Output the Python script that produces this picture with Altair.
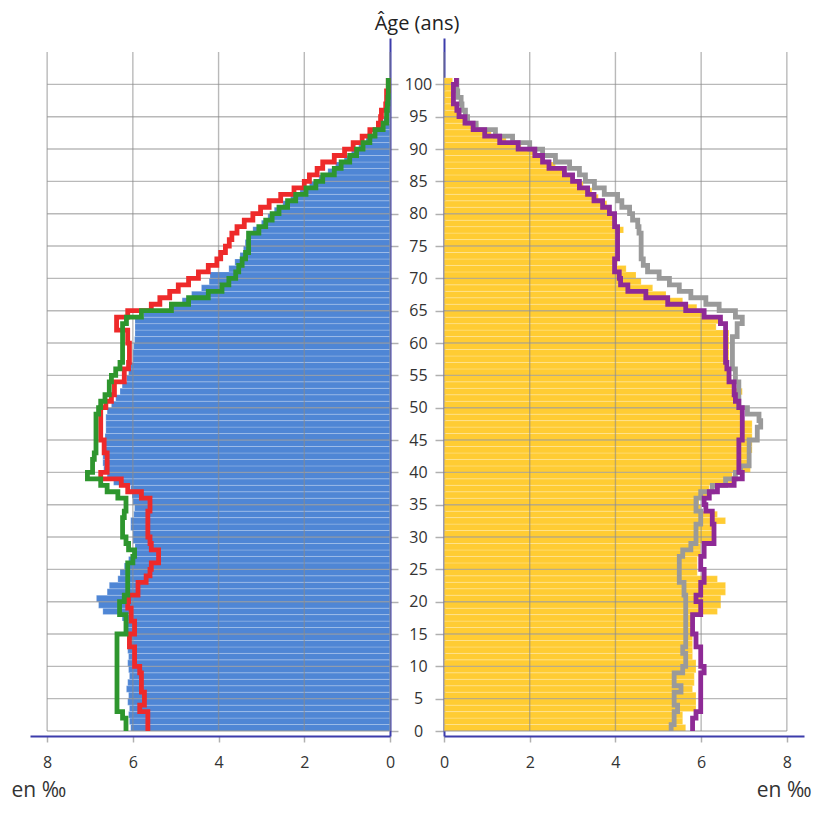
import altair as alt
import pandas as pd

AGES = list(range(0, 101))

MEN_BARS = [6.05, 6.08, 6.1, 6.08, 6.12, 6.1, 6.15, 6.12, 6.08, 6.1,
            6.12, 6.1, 6.12, 6.1, 6.12, 6.15, 6.2, 6.25, 6.7, 6.8,
            6.85, 6.6, 6.55, 6.35, 6.3, 6.2, 6.1, 5.95, 5.95, 6.0,
            6.0, 6.05, 6.05, 5.98, 5.96, 6.0, 6.02, 6.05, 6.45, 6.6,
            6.68, 6.7, 6.7, 6.68, 6.65, 6.65, 6.63, 6.63, 6.63, 6.6,
            6.5, 6.4, 6.3, 6.25, 6.15, 6.1, 6.05, 6.0, 6.0, 5.98,
            5.96, 5.95, 5.95, 5.95, 5.75, 5.1, 4.85, 4.63, 4.4, 4.22,
            4.2, 3.76, 3.62, 3.5, 3.42, 3.38, 3.3, 3.2, 3.0, 2.85,
            2.7, 2.5, 2.32, 2.1, 1.88, 1.66, 1.45, 1.27, 1.07, 0.9,
            0.73, 0.56, 0.4, 0.26, 0.15, 0.1, 0.07, 0.05, 0.03, 0.02,
            0.02]

MEN_RED = [5.65, 5.65, 5.65, 5.84, 5.73, 5.73, 5.8, 5.8, 5.8, 5.84,
           5.96, 5.96, 5.96, 6.08, 6.08, 5.96, 5.96, 6.04, 6.04, 6.12,
           6.1, 5.88, 5.88, 5.69, 5.6, 5.57, 5.4, 5.4, 5.57, 5.6,
           5.65, 5.65, 5.65, 5.65, 5.6, 5.6, 5.8, 6.12, 6.27, 6.75,
           6.6, 6.6, 6.6, 6.67, 6.67, 6.75, 6.75, 6.75, 6.75, 6.75,
           6.63, 6.5, 6.43, 6.43, 6.2, 6.2, 6.1, 6.08, 6.08, 6.08,
           6.12, 6.12, 6.38, 6.38, 6.12, 5.57, 5.37, 5.14, 4.94, 4.7,
           4.47, 4.24, 4.04, 3.95, 3.84, 3.75, 3.69, 3.57, 3.4, 3.2,
           3.02, 2.82, 2.55, 2.24, 2.0, 1.88, 1.7, 1.57, 1.3, 1.06,
           0.86, 0.65, 0.47, 0.27, 0.22, 0.2, 0.1, 0.08, 0.08, 0.04,
           0.04]

MEN_GREEN = [6.16, 6.16, 6.24, 6.37, 6.37, 6.37, 6.37, 6.37, 6.37, 6.37,
             6.37, 6.37, 6.37, 6.37, 6.37, 6.16, 6.16, 6.16, 6.31, 6.31,
             6.2, 6.12, 6.12, 6.12, 6.12, 6.12, 6.0, 5.96, 6.1, 6.16,
             6.24, 6.24, 6.24, 6.2, 6.16, 6.16, 6.35, 6.6, 6.75, 7.06,
             6.94, 6.94, 6.9, 6.86, 6.86, 6.86, 6.86, 6.86, 6.86, 6.8,
             6.75, 6.65, 6.55, 6.55, 6.5, 6.4, 6.3, 6.24, 6.24, 6.24,
             6.24, 6.24, 6.24, 6.15, 5.8, 5.1, 4.7, 4.24, 3.92, 3.76,
             3.6, 3.53, 3.45, 3.37, 3.3, 3.3, 3.3, 3.06, 2.9, 2.75,
             2.59, 2.39, 2.2, 1.96, 1.73, 1.57, 1.3, 1.14, 0.94, 0.78,
             0.63, 0.47, 0.35, 0.16, 0.08, 0.08, 0.06, 0.05, 0.04, 0.04,
             0.04]

WOMEN_BARS = [5.64, 5.57, 5.57, 5.88, 5.88, 5.88, 5.8, 5.84, 5.84, 5.88,
              5.88, 5.8, 5.8, 5.8, 5.8, 5.8, 5.8, 5.8, 6.38, 6.46,
              6.46, 6.57, 6.57, 6.38, 5.91, 5.91, 5.91, 5.99, 5.99, 6.26,
              6.26, 6.26, 6.57, 6.38, 5.99, 5.95, 6.19, 6.19, 6.73, 6.73,
              7.15, 7.15, 7.15, 7.19, 7.19, 7.19, 7.19, 7.19, 6.96, 6.96,
              6.88, 6.9, 6.96, 6.75, 6.7, 6.65, 6.65, 6.65, 6.65, 6.65,
              6.65, 6.65, 6.35, 6.5, 6.1, 5.9, 5.57, 5.18, 4.87, 4.6,
              4.48, 4.25, 4.05, 4.0, 4.0, 4.0, 4.0, 4.19, 3.98, 3.95,
              3.88, 3.8, 3.6, 3.45, 3.25, 3.05, 2.85, 2.6, 2.35, 2.1,
              1.8, 1.45, 1.1, 0.8, 0.55, 0.4, 0.3, 0.25, 0.2, 0.18,
              0.2]

WOMEN_PURPLE = [5.8, 5.8, 5.88, 5.99, 5.99, 5.99, 5.99, 5.99, 5.99, 6.07,
                5.99, 5.99, 5.99, 5.88, 5.88, 5.8, 5.8, 5.8, 5.99, 5.99,
                5.88, 5.99, 5.99, 6.07, 6.07, 5.99, 5.99, 6.07, 6.07, 6.3,
                6.3, 6.3, 6.26, 6.26, 6.11, 6.07, 6.19, 6.38, 6.77, 6.96,
                6.88, 6.88, 6.88, 6.88, 6.88, 6.96, 6.96, 6.96, 6.96, 6.96,
                6.88, 6.8, 6.77, 6.77, 6.65, 6.65, 6.6, 6.57, 6.57, 6.57,
                6.57, 6.57, 6.57, 6.45, 6.07, 5.64, 5.22, 4.71, 4.29, 4.12,
                4.09, 3.98, 3.98, 4.05, 4.05, 4.05, 4.05, 4.05, 3.98, 3.98,
                3.86, 3.7, 3.5, 3.35, 3.16, 3.0, 2.81, 2.45, 2.3, 2.12,
                1.73, 1.3, 0.95, 0.68, 0.49, 0.35, 0.3, 0.22, 0.22, 0.22,
                0.29]

WOMEN_GRAY = [5.3, 5.37, 5.37, 5.45, 5.37, 5.37, 5.53, 5.37, 5.37, 5.57,
              5.64, 5.64, 5.57, 5.64, 5.64, 5.64, 5.64, 5.64, 5.64, 5.64,
              5.64, 5.6, 5.6, 5.49, 5.49, 5.49, 5.49, 5.57, 5.76, 5.88,
              5.88, 5.88, 5.99, 5.99, 5.88, 5.88, 5.99, 6.26, 6.57, 6.8,
              6.92, 7.12, 7.12, 7.12, 7.12, 7.31, 7.31, 7.39, 7.35, 7.08,
              6.88, 6.88, 6.88, 6.88, 6.8, 6.8, 6.73, 6.73, 6.73, 6.73,
              6.73, 6.84, 6.84, 6.96, 6.8, 6.42, 6.11, 5.76, 5.49, 5.26,
              5.02, 4.75, 4.65, 4.6, 4.6, 4.6, 4.6, 4.55, 4.52, 4.4,
              4.33, 4.15, 4.05, 3.74, 3.51, 3.3, 3.16, 2.93, 2.6, 2.3,
              2.0, 1.6, 1.2, 0.75, 0.55, 0.5, 0.42, 0.4, 0.32, 0.3,
              0.3]

X_TICKS = [0, 2, 4, 6, 8]
AGE_TICKS = list(range(0, 101, 5))
X_MAX = 8.4
AGE_MAX = 106.4
GRID_AGE_TOP = 105
GRID_X_END = 8

AXIS_BLUE = "#3c3cab"
GRID_COLOR = "#8a8a8a"
TEXT = "#333333"
FONT = "Open Sans"
PANEL_W = 360
PANEL_H = 698
GAP = 54


def bars_df(values):
    return pd.DataFrame({"age": AGES, "value": values})


def line_df(values):
    ages = AGES + [AGES[-1] + 1]
    vals = list(values) + [values[-1]]
    return pd.DataFrame({"age": ages, "value": vals})


vgrid = pd.DataFrame({"value": X_TICKS, "a0": [0] * len(X_TICKS),
                      "a1": [GRID_AGE_TOP] * len(X_TICKS)})
hgrid = pd.DataFrame({"age": AGE_TICKS, "v0": [0] * len(AGE_TICKS),
                      "v1": [GRID_X_END] * len(AGE_TICKS)})


def panel(bar_vals, bar_color, lines, left):
    xscale = alt.Scale(domain=[0, X_MAX], reverse=left, nice=False, zero=False)
    yscale = alt.Scale(domain=[0, AGE_MAX], nice=False, zero=False)
    xaxis = alt.Axis(
        values=X_TICKS, grid=False, domainColor=AXIS_BLUE, domainWidth=2,
        tickColor="#b0b0b0", tickSize=6, tickWidth=1.5,
        labelFontSize=16, labelColor=TEXT, labelPadding=12, labelFlush=False,
        labelFont=FONT, title="en ‰", titleFontSize=21, titleFontWeight="normal",
        titleColor=TEXT, titleFont=FONT, titleBaseline="alphabetic",
        titleAlign="left" if left else "right",
        titleX=-19 if left else PANEL_W + 7, titleY=60,
    )
    if left:
        yaxis = alt.Axis(
            orient="right", values=AGE_TICKS, grid=False, domainColor=AXIS_BLUE,
            domainWidth=2, tickColor="#b0b0b0", tickSize=8, tickWidth=1.5,
            labelFontSize=16, labelColor=TEXT, labelAlign="center",
            labelBaseline="middle", labelPadding=20, labelFont=FONT, title=None,
        )
    else:
        yaxis = alt.Axis(
            orient="left", values=AGE_TICKS, grid=False, domainColor=AXIS_BLUE,
            domainWidth=2, tickColor="#b0b0b0", tickSize=9, tickWidth=1.5,
            labels=False, title=None,
        )

    def X(field):
        return alt.X(field, type="quantitative", scale=xscale, axis=xaxis)

    def Y(field):
        return alt.Y(field, type="quantitative", scale=yscale, axis=yaxis)

    bars = alt.Chart(bars_df(bar_vals)).transform_calculate(
        age_top="datum.age + 1"
    ).mark_bar(orient="horizontal", color=bar_color, stroke="#ffffff",
               strokeWidth=0.6, strokeOpacity=0.35).encode(
        x=X("value"), y=Y("age"), y2="age_top:Q"
    )
    vg = alt.Chart(vgrid).mark_rule(color=GRID_COLOR, strokeWidth=1.4,
                                    opacity=0.6).encode(
        x=X("value"), y=Y("a0"), y2="a1:Q"
    )
    hg = alt.Chart(hgrid).mark_rule(color=GRID_COLOR, strokeWidth=1.4,
                                    opacity=0.6).encode(
        y=Y("age"), x=X("v0"), x2="v1:Q"
    )
    layers = [bars, vg, hg]
    for vals, col in lines:
        layers.append(
            alt.Chart(line_df(vals)).mark_line(
                color=col, strokeWidth=4.8, interpolate="step-before",
                strokeJoin="miter"
            ).encode(x=X("value"), y=Y("age"), order="age:Q")
        )
    return alt.layer(*layers).properties(
        width=PANEL_W, height=PANEL_H,
        view=alt.ViewBackground(stroke="transparent", strokeWidth=0),
    )


left = panel(MEN_BARS, "#4f86d5", [(MEN_RED, "#ee2a2a"), (MEN_GREEN, "#2e962e")], True)
right = panel(WOMEN_BARS, "#ffcc33", [(WOMEN_GRAY, "#9a9a9a"), (WOMEN_PURPLE, "#8e2a96")], False)

chart = alt.hconcat(left, right, spacing=GAP, bounds="flush").properties(
    title=alt.TitleParams("Âge (ans)", fontSize=20, fontWeight="normal",
                          color="#222222", font=FONT, anchor="start",
                          frame="group", align="center",
                          dx=PANEL_W + GAP / 2, offset=4),
    padding={"left": 3, "top": 6, "right": 2, "bottom": 3},
).configure_view(stroke="transparent", strokeWidth=0).configure(font=FONT)

chart.save("out.html", embed_options={"renderer": "svg", "actions": False})
